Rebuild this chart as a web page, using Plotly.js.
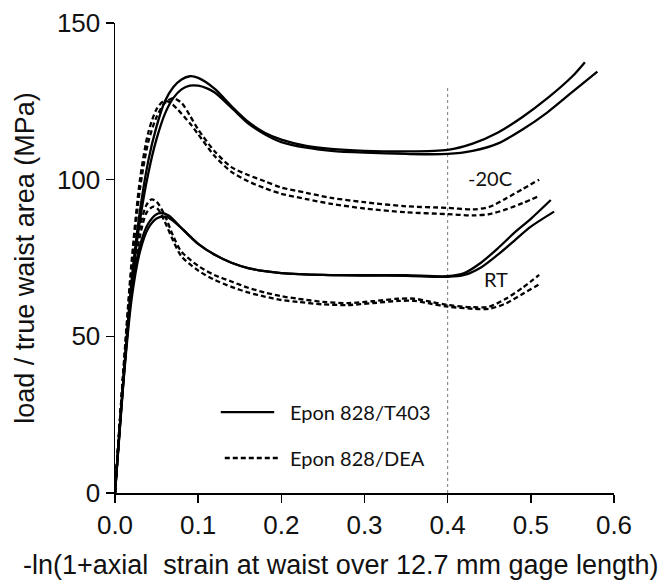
<!DOCTYPE html>
<html>
<head>
<meta charset="utf-8">
<script src="https://cdn.plot.ly/plotly-3.0.1.min.js"></script>
<style>
  html, body { margin: 0; padding: 0; background: #fff; }
  #chart { width: 665px; height: 584px; }
</style>
</head>
<body>
<div id="chart"></div>
<script>
// Epon 828/T403 at -20C (two specimens)
const t403ColdAx = [0, 0.01, 0.02, 0.03, 0.04, 0.05, 0.06, 0.07, 0.08, 0.09, 0.1, 0.12, 0.14, 0.16, 0.18, 0.2, 0.23, 0.26, 0.3, 0.35, 0.4, 0.43, 0.46, 0.49, 0.52, 0.55, 0.565];
const t403ColdAy = [0, 36, 68, 90, 106, 117, 125, 129.5, 132, 133, 132.5, 129, 123.5, 118.5, 115, 112.8, 110.8, 109.8, 109.2, 109, 109.5, 111.5, 115, 120, 126, 133, 137.5];
const t403ColdBx = [0, 0.01, 0.02, 0.03, 0.04, 0.05, 0.06, 0.07, 0.08, 0.09, 0.1, 0.11, 0.12, 0.14, 0.16, 0.18, 0.2, 0.23, 0.26, 0.3, 0.35, 0.4, 0.43, 0.46, 0.49, 0.52, 0.55, 0.58];
const t403ColdBy = [0, 35, 66, 87, 102, 113, 121, 126, 128.8, 130, 130, 129.2, 127.8, 123, 118, 114.5, 112, 110.2, 109.2, 108.6, 108.2, 108.2, 109.2, 111.5, 116, 121.5, 128, 134.5];

// Epon 828/DEA at -20C
const deaColdAx = [0, 0.01, 0.02, 0.03, 0.04, 0.05, 0.06, 0.07, 0.08, 0.09, 0.1, 0.12, 0.14, 0.16, 0.18, 0.2, 0.23, 0.26, 0.3, 0.35, 0.4, 0.43, 0.45, 0.47, 0.49, 0.51];
const deaColdAy = [0, 38, 72, 97, 112, 120, 124.5, 126, 124.5, 120.5, 116, 109, 104, 101.5, 99.5, 97.5, 95.8, 94.2, 92.8, 91.5, 91, 90.5, 91.3, 94, 97, 100];
const deaColdBx = [0, 0.01, 0.02, 0.03, 0.04, 0.05, 0.058, 0.065, 0.075, 0.09, 0.1, 0.12, 0.14, 0.16, 0.18, 0.2, 0.23, 0.26, 0.3, 0.35, 0.4, 0.43, 0.45, 0.47, 0.49, 0.51];
const deaColdBy = [0, 39, 74, 100, 115, 122.5, 125, 124.8, 122.5, 118, 114.5, 107.5, 102.5, 99.5, 97.3, 95.5, 93.8, 92.3, 90.8, 89.6, 89, 88.6, 89, 90.5, 92.5, 94.8];

// Epon 828/T403 at room temperature
const t403RtAx = [0, 0.01, 0.02, 0.03, 0.04, 0.05, 0.056, 0.065, 0.08, 0.1, 0.12, 0.14, 0.16, 0.18, 0.2, 0.25, 0.3, 0.35, 0.4, 0.42, 0.44, 0.46, 0.48, 0.5, 0.524];
const t403RtAy = [0, 36, 64, 79, 86, 89, 89.3, 88.5, 84.5, 79.5, 76, 73.5, 71.8, 70.8, 70.2, 69.6, 69.5, 69.5, 69.2, 70.2, 73.5, 78, 83, 87.5, 93.5];
const t403RtBx = [0, 0.01, 0.02, 0.03, 0.04, 0.05, 0.058, 0.065, 0.08, 0.1, 0.12, 0.14, 0.16, 0.18, 0.2, 0.25, 0.3, 0.35, 0.4, 0.42, 0.44, 0.46, 0.48, 0.5, 0.528];
const t403RtBy = [0, 35, 62, 77, 84.5, 87.6, 88.2, 87.8, 84.5, 79.5, 76, 73.5, 71.8, 70.8, 70.2, 69.6, 69.4, 69.3, 69, 69.6, 72, 76, 80.5, 85, 89.8];

// Epon 828/DEA at room temperature
const deaRtAx = [0, 0.01, 0.02, 0.03, 0.038, 0.044, 0.05, 0.06, 0.07, 0.08, 0.1, 0.12, 0.14, 0.16, 0.18, 0.2, 0.22, 0.25, 0.28, 0.31, 0.34, 0.36, 0.38, 0.4, 0.43, 0.45, 0.47, 0.49, 0.51];
const deaRtAy = [0, 38, 68, 85, 92, 93.7, 93, 88.5, 82, 77, 72.5, 69.5, 67.5, 65.5, 64, 62.8, 62, 61, 60.6, 61.2, 62, 62, 61, 60, 59.3, 59.5, 62, 65.5, 69.6];
const deaRtBx = [0, 0.01, 0.02, 0.03, 0.038, 0.046, 0.052, 0.06, 0.07, 0.08, 0.1, 0.12, 0.14, 0.16, 0.18, 0.2, 0.22, 0.25, 0.28, 0.31, 0.34, 0.36, 0.38, 0.4, 0.43, 0.45, 0.47, 0.49, 0.512];
const deaRtBy = [0, 37, 66, 82, 89.5, 91.4, 90.5, 86.5, 80.5, 75.5, 71, 68, 65.8, 64, 62.7, 61.6, 61, 60.2, 60, 60.6, 61.3, 61.3, 60.4, 59.5, 58.8, 58.8, 60.5, 63.5, 66.9];

// reference strain marker
const markerX = [0.4, 0.4];
const markerY = [0, 130];

const legendNames = ['Epon 828/T403', 'Epon 828/DEA'];
const xTickVals = [0, 0.1, 0.2, 0.3, 0.4, 0.5, 0.6];
const yTickVals = [0, 50, 100, 150];
const xTitle = '-ln(1+axial  strain at waist over 12.7 mm gage length)';
const yTitle = 'load / true waist area (MPa)';

const solid = { color: '#000', width: 2.3, shape: 'spline', smoothing: 0.8 };
const dashed = { color: '#000', width: 2.3, shape: 'spline', smoothing: 0.8, dash: '5px,3px' };

function curve(x, y, line) {
  return { x: x, y: y, type: 'scatter', mode: 'lines', line: line, hoverinfo: 'skip', showlegend: false };
}

const traces = [
  { x: markerX, y: markerY, type: 'scatter', mode: 'lines',
    line: { color: '#777', width: 1, dash: 'dot' }, hoverinfo: 'skip', showlegend: false },
  curve(t403ColdAx, t403ColdAy, solid),
  curve(t403ColdBx, t403ColdBy, solid),
  curve(deaColdAx, deaColdAy, dashed),
  curve(deaColdBx, deaColdBy, dashed),
  curve(t403RtAx, t403RtAy, solid),
  curve(t403RtBx, t403RtBy, solid),
  curve(deaRtAx, deaRtAy, dashed),
  curve(deaRtBx, deaRtBy, dashed)
];

const labelFont = { family: 'Lato, "Open Sans", sans-serif', size: 20, color: '#111' };
const tickFont = { family: '"Liberation Sans", Arial, sans-serif', size: 26, color: '#111' };
const titleFont = { family: '"Liberation Sans", Arial, sans-serif', size: 27, color: '#111' };

const layout = {
  width: 665,
  height: 584,
  margin: { l: 115, r: 51, t: 23, b: 91 },
  paper_bgcolor: '#fff',
  plot_bgcolor: '#fff',
  showlegend: false,
  xaxis: {
    range: [0, 0.6],
    tickvals: xTickVals,
    tickformat: '.1f',
    showgrid: false,
    zeroline: false,
    showline: true,
    linecolor: '#000',
    linewidth: 1.5,
    ticks: 'outside',
    ticklen: 8,
    tickwidth: 1.5,
    tickcolor: '#000',
    tickfont: tickFont
  },
  yaxis: {
    range: [0, 150],
    tickvals: yTickVals,
    showgrid: false,
    zeroline: false,
    showline: true,
    linecolor: '#000',
    linewidth: 1.5,
    ticks: 'outside',
    ticklen: 8,
    tickwidth: 1.5,
    tickcolor: '#000',
    tickfont: tickFont,
    title: { text: yTitle, font: titleFont, standoff: 14 }
  },
  shapes: [
    { type: 'line', xref: 'paper', yref: 'paper', x0: 0.212, x1: 0.319, y0: 0.172, y1: 0.172,
      line: { color: '#000', width: 2.3 } },
    { type: 'line', xref: 'paper', yref: 'paper', x0: 0.220, x1: 0.327, y0: 0.0745, y1: 0.0745,
      line: { color: '#000', width: 2.3, dash: '5px,3px' } }
  ],
  annotations: [
    // x-axis title, centred under the whole figure width
    { xref: 'paper', yref: 'paper', x: 0.453, y: -0.153, xanchor: 'center', yanchor: 'middle',
      text: xTitle, showarrow: false, font: titleFont },
    { xref: 'paper', yref: 'paper', x: 0.347, y: 0.172, xanchor: 'left', yanchor: 'middle',
      text: legendNames[0], showarrow: false, font: labelFont },
    { xref: 'paper', yref: 'paper', x: 0.347, y: 0.0745, xanchor: 'left', yanchor: 'middle',
      text: legendNames[1], showarrow: false, font: labelFont },
    { x: 0.451, y: 100.5, xref: 'x', yref: 'y', text: '-20C', showarrow: false, font: labelFont },
    { x: 0.458, y: 68.2, xref: 'x', yref: 'y', text: 'RT', showarrow: false, font: labelFont }
  ]
};

Plotly.newPlot('chart', traces, layout, { staticPlot: true, displayModeBar: false });
</script>
</body>
</html>
